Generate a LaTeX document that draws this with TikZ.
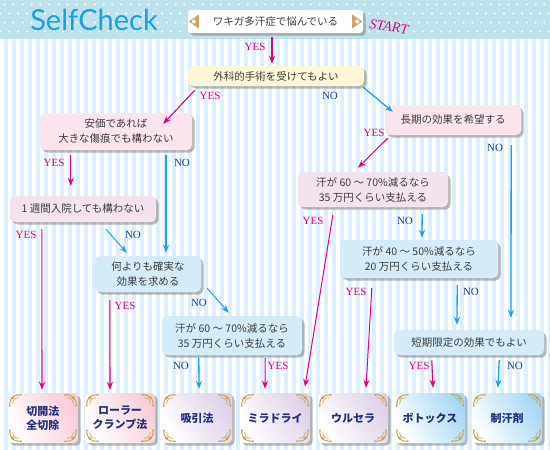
\documentclass[tikz,border=0pt]{standalone}
\usepackage{fontspec}
\setmainfont{Liberation Serif}
\newfontfamily\jp{Noto Sans CJK JP}
\newfontfamily\lato{Lato}
\usetikzlibrary{arrows.meta,shadows}
\definecolor{pinkline}{HTML}{E4007F}
\definecolor{blueline}{HTML}{1AA3E8}
\definecolor{notext}{HTML}{1C3F94}
\definecolor{headbg}{HTML}{BEE2EB}
\definecolor{stripebg}{HTML}{DCEFFA}
\definecolor{pinkbox}{HTML}{FBE6EF}
\definecolor{lilacbox}{HTML}{F2E3EE}
\definecolor{bluebox}{HTML}{D5ECF8}
\definecolor{creambox}{HTML}{FDF7DA}
\definecolor{gold}{HTML}{C9A65A}
\definecolor{navy}{HTML}{23307A}
\definecolor{boxtext}{HTML}{3C3C3C}
\definecolor{selfblue}{HTML}{1BA1E2}
\definecolor{respink}{HTML}{F6CDD8}
\definecolor{reslilac}{HTML}{DED2E8}
\definecolor{resblue}{HTML}{A6D8F3}

\newcommand{\orn}{%
  \draw[gold, line width=1pt] (2,13) .. controls (2,5) and (5,2) .. (13,2);
  \draw[gold, line width=.7pt] (5,11) .. controls (5,7) and (7,5) .. (11,5);
  \fill[gold] (5,5) circle (1.6) (2,13) circle (1) (13,2) circle (1);}

\begin{document}
\begin{tikzpicture}[x=1pt, y=-1pt,
  ques/.style = {rounded corners=5pt, align=center, text=boxtext,
    font=\jp\fontsize{10.5}{15}\selectfont,
    drop shadow={shadow xshift=2.5pt, shadow yshift=-2.5pt, opacity=.55}},
  res/.style = {rounded corners=4pt, minimum width=70, minimum height=50,
    align=center, text=navy, font=\jp\bfseries\fontsize{11}{14}\selectfont,
    left color=white, right color=#1, shading angle=120,
    drop shadow={shadow xshift=2.5pt, shadow yshift=-2.5pt, opacity=.55}},
  yes/.style = {text=pinkline, inner sep=0pt, font=\fontsize{11}{11}\selectfont},
  no/.style = {text=notext, inner sep=0pt, font=\fontsize{11}{11}\selectfont},
  yesarr/.style = {pinkline, line width=1.1pt, -{Stealth[length=8pt,width=6pt]}},
  noarr/.style = {blueline, line width=1.3pt, -{Stealth[length=8pt,width=6pt]}}]
  \useasboundingbox (0,0) rectangle (550,450);
  \fill[stripebg] (0,39) rectangle (550,450);
  \foreach \x in {0,8,...,548}
    \fill[white] (\x,39) rectangle ++(3.5,411);
  \fill[headbg] (0,0) rectangle (550,39);
  \foreach \y [count=\i] in {4.5,13.5,22.5,31.5} {
    \pgfmathsetmacro\off{mod(\i,2)*4.5}
    \foreach \x in {0,9,...,549}
      \fill[white] (\x+\off,\y) circle (1.1);
  }
  \node[text=selfblue, font=\lato\fontsize{29}{29}\selectfont] (ttl) at (94,20) {SelfCheck};

  \node[ques, fill=white, rounded corners=3pt, minimum width=175, minimum height=23] (st) at (275.5,21.5) {ワキガ多汗症で悩んでいる};
  \node[text=pinkline, font=\itshape\fontsize{14}{14}\selectfont, rotate=-8] (go) at (389,27) {START};
  \node[ques, fill=creambox, minimum width=176, minimum height=20] (q2) at (276,76) {外科的手術を受けてもよい};
  \node[ques, fill=pinkbox, minimum width=152, minimum height=37] (q3) at (116,131.5) {安価であれば\\大きな傷痕でも構わない};
  \node[ques, fill=pinkbox, minimum width=136, minimum height=30] (q4) at (453,120) {長期の効果を希望する};
  \node[ques, fill=lilacbox, minimum width=146, minimum height=26] (q5) at (83,209) {1 週間入院しても構わない};
  \node[ques, fill=bluebox, minimum width=106, minimum height=36] (q6) at (148,274) {何よりも確実な\\効果を求める};
  \node[ques, fill=bluebox, minimum width=140, minimum height=39] (q7) at (232,335.5) {汗が 60 ～ 70\%減るなら\\35 万円くらい支払える};
  \node[ques, fill=lilacbox, minimum width=150, minimum height=35] (q8) at (373,189.5) {汗が 60 ～ 70\%減るなら\\35 万円くらい支払える};
  \node[ques, fill=bluebox, minimum width=158, minimum height=38] (q9) at (419,259) {汗が 40 ～ 50\%減るなら\\20 万円くらい支払える};
  \node[ques, fill=bluebox, minimum width=150, minimum height=25] (q10) at (469,342.5) {短期限定の効果でもよい};

  \node[res=respink] (b1) at (43,418) {切開法\\全切除};
  \node[res=respink] (b2) at (120,418) {ローラー\\クランプ法};
  \node[res=reslilac] (b3) at (197,418) {吸引法};
  \node[res=reslilac] (b4) at (275,418) {ミラドライ};
  \node[res=reslilac] (b5) at (353,418) {ウルセラ};
  \node[res=resblue] (b6) at (430,418) {ボトックス};
  \node[res=resblue] (b7) at (507,418) {制汗剤};

  \foreach \n in {b1,b2,b3,b4,b5,b6,b7} {
    \begin{scope}[shift={(\n.north west)}] \orn \end{scope}
    \begin{scope}[shift={(\n.north east)}, xscale=-1] \orn \end{scope}
    \begin{scope}[shift={(\n.south west)}, yscale=-1] \orn \end{scope}
    \begin{scope}[shift={(\n.south east)}, xscale=-1, yscale=-1] \orn \end{scope}
  }
  \fill[gold] ([xshift=1pt]st.west) -- ++(10,-7) -- ++(0,14) -- cycle;
  \fill[white] ([xshift=6pt]st.west) circle (2);
  \fill[gold] ([xshift=-1pt]st.east) -- ++(-10,-7) -- ++(0,14) -- cycle;
  \fill[white] ([xshift=-6pt]st.east) circle (2);

  \node[yes] (y1) at (255,47) {YES};
  \node[yes] (y2) at (210,96) {YES};
  \node[no] (n2) at (330,96) {NO};
  \node[yes] (y3) at (54,163) {YES};
  \node[no] (n3) at (182,163) {NO};
  \node[yes] (y4) at (374,133) {YES};
  \node[no] (n4) at (495,148) {NO};
  \node[yes] (y5) at (26,235) {YES};
  \node[no] (n5) at (133,235) {NO};
  \node[yes] (y6) at (125,306) {YES};
  \node[no] (n6) at (199,303) {NO};
  \node[no] (n7) at (181,366) {NO};
  \node[yes] (y7) at (278,366) {YES};
  \node[yes] (y8) at (313,221) {YES};
  \node[no] (n8) at (405,221) {NO};
  \node[yes] (y9) at (356,292) {YES};
  \node[no] (n9) at (471,292) {NO};
  \node[yes] (y10) at (419,366) {YES};
  \node[no] (n10) at (515,366) {NO};

  \draw[yesarr] ([xshift=-3.5pt,yshift=-4pt]st.south) -- ([xshift=-4pt,yshift=2pt]q2.north);
  \draw[yesarr] ([xshift=7pt,yshift=-4pt]q2.south west) -- ([xshift=-29pt,yshift=-11pt]q3.north east);
  \draw[noarr] ([xshift=-1pt,yshift=-1pt]q2.south east) -- ([xshift=8pt,yshift=-7pt]q4.north west);
  \draw[yesarr] ([xshift=31pt,yshift=-5pt]q3.south west) -- ([xshift=61pt,yshift=10pt]q5.north west);
  \draw[noarr] ([xshift=50pt,yshift=-5pt]q3.south) -- ([xshift=18pt,yshift=3pt]q6.north);
  \draw[yesarr] ([xshift=32pt,yshift=-7pt]q5.south west) -- ([xshift=-1pt,yshift=3pt]b1.north);
  \draw[noarr, line width=1pt] ([xshift=23pt,yshift=-7pt]q5.south) -- ([xshift=32pt,yshift=3pt]q6.north west);
  \draw[yesarr] ([xshift=15pt,yshift=-8pt]q6.south west) -- ([xshift=-10pt,yshift=3pt]b2.north);
  \draw[noarr, line width=1pt] ([xshift=6pt,yshift=4pt]q6.south east) -- ([xshift=67pt,yshift=3pt]q7.north west);
  \draw[noarr] ([xshift=37pt,yshift=-3pt]q7.south west) -- ([xshift=2pt,yshift=4pt]b3.north);
  \draw[yesarr] ([xshift=-37pt,yshift=-3pt]q7.south east) -- ([xshift=-10pt,yshift=4pt]b4.north);
  \draw[yesarr] ([xshift=3pt,yshift=-3pt]q4.south west) -- ([xshift=-15pt,yshift=4pt]q8.north);
  \draw[noarr] ([xshift=-10pt,yshift=-10pt]q4.south east) -- ([xshift=42pt,yshift=12pt]q10.north);
  \draw[yesarr, line width=1pt] ([xshift=35pt,yshift=-8pt]q8.south west) -- ([xshift=30pt,yshift=6pt]b4.north);
  \draw[noarr] ([xshift=-26pt,yshift=-7pt]q8.south east) -- ([xshift=3pt,yshift=2pt]q9.north);
  \draw[yesarr, line width=1pt] ([xshift=32pt,yshift=-10pt]q9.south west) -- ([xshift=13pt,yshift=5pt]b5.north);
  \draw[noarr] ([xshift=-41pt,yshift=-7pt]q9.south east) -- ([xshift=-12pt,yshift=5pt]q10.north);
  \draw[yesarr] ([xshift=38pt,yshift=-5pt]q10.south west) -- ([xshift=3pt,yshift=5pt]b6.north);
  \draw[noarr] ([xshift=-45pt,yshift=-5pt]q10.south east) -- ([xshift=-9pt,yshift=5pt]b7.north);
\end{tikzpicture}
\end{document}
